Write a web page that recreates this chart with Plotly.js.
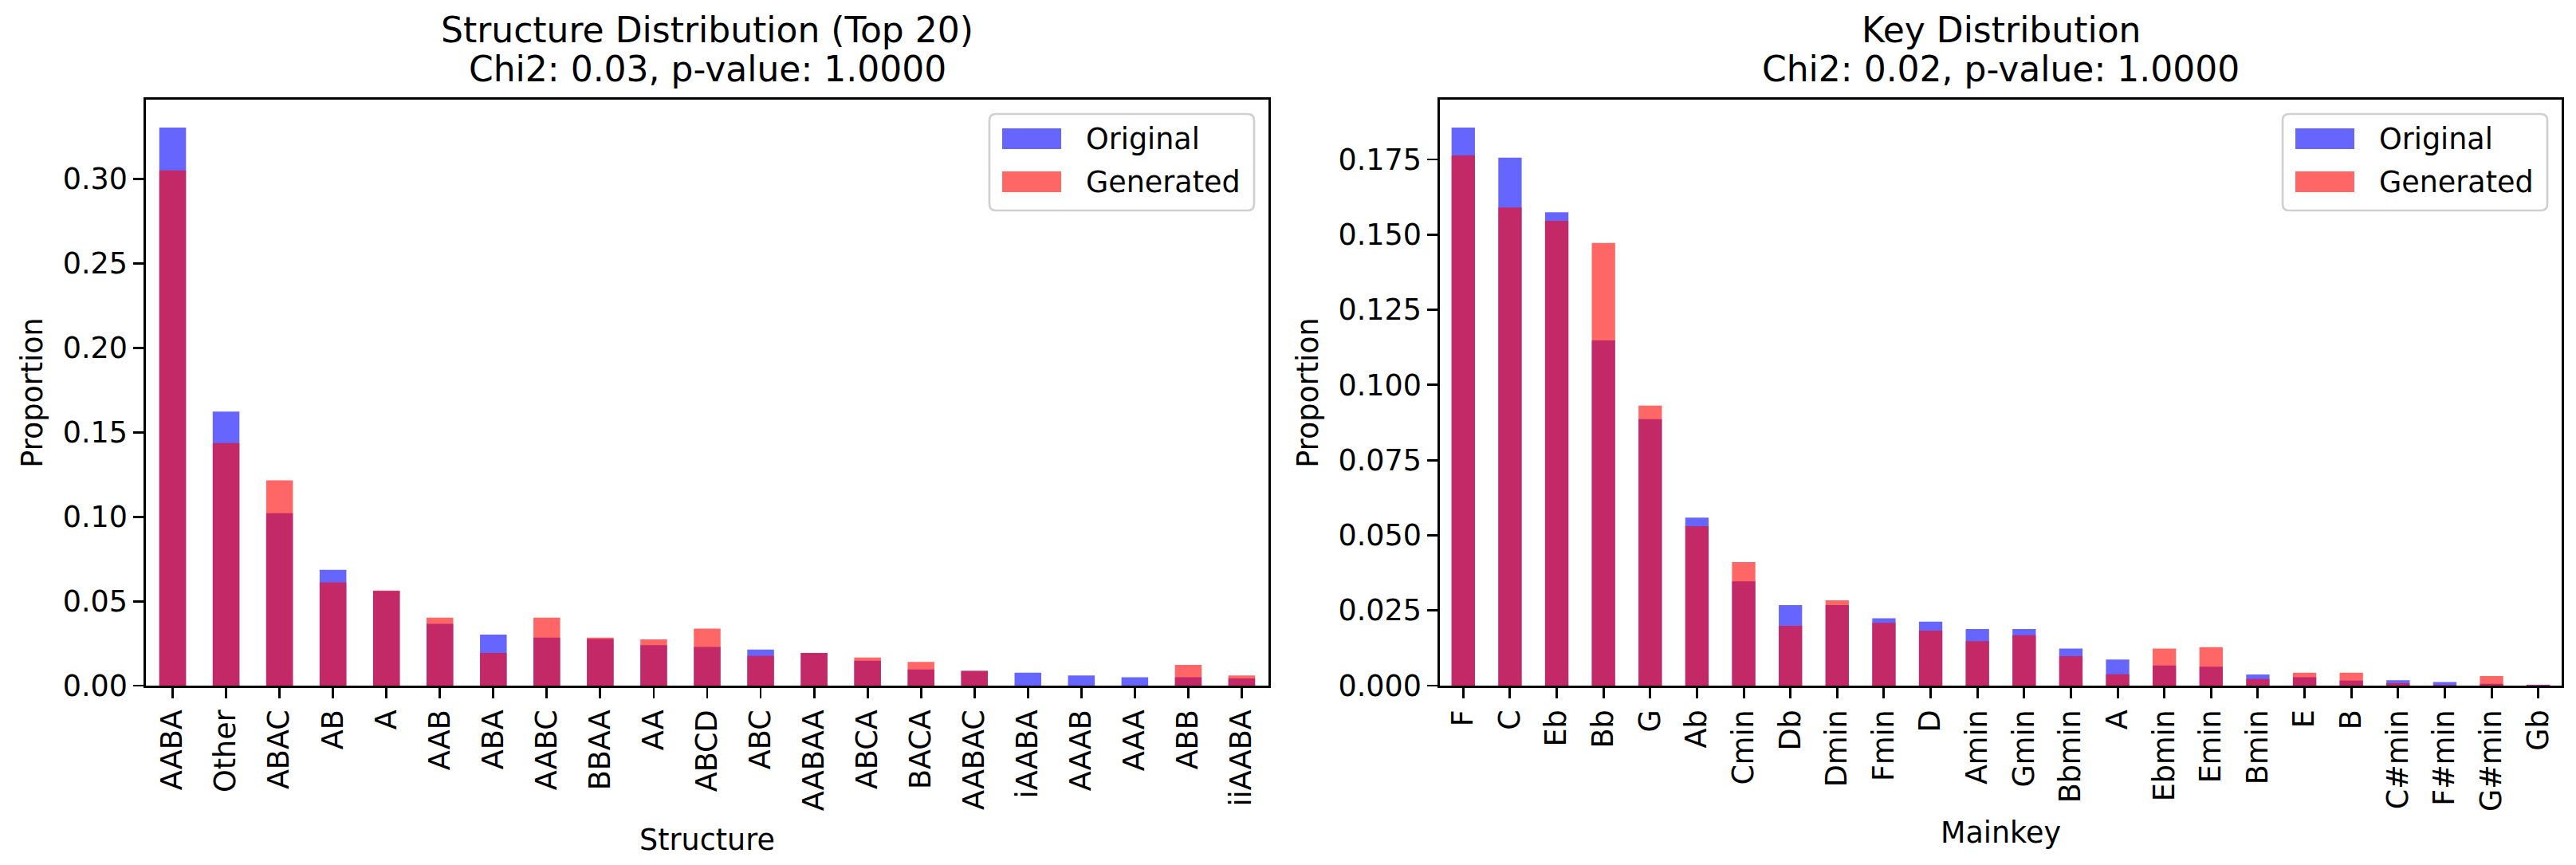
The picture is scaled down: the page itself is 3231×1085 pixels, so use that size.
<!DOCTYPE html>
<html>
<head>
<meta charset="utf-8">
<script src="https://cdn.plot.ly/plotly-3.0.1.min.js"></script>
<style>html,body{margin:0;padding:0;background:#fff;}#chart{width:3231px;height:1085px;}</style>
</head>
<body>
<div id="chart"></div>
<script>
// ---- data ----
var structures = ['AABA','Other','ABAC','AB','A','AAB','ABA','AABC','BBAA','AA','ABCD','ABC','AABAA','ABCA','BACA','AABAC','iAABA','AAAB','AAA','ABB','iiAABA'];
var structOriginal = [0.3304,0.1623,0.1021,0.0686,0.0561,0.0366,0.0302,0.0284,0.0276,0.0239,0.0229,0.0213,0.0194,0.0148,0.0095,0.0087,0.0077,0.0060,0.0050,0.0050,0.0042];
var structGenerated = [0.3050,0.1436,0.1215,0.0611,0.0563,0.0402,0.0194,0.0402,0.0284,0.0274,0.0337,0.0176,0.0193,0.0166,0.0140,0.0087,0,0,0,0.0123,0.0060];

var keys = ['F','C','Eb','Bb','G','Ab','Cmin','Db','Dmin','Fmin','D','Amin','Gmin','Bbmin','A','Ebmin','Emin','Bmin','E','B','C#min','F#min','G#min','Gb'];
var keyOriginal = [0.1856,0.1756,0.1574,0.1148,0.0886,0.0559,0.0347,0.0268,0.0268,0.0224,0.0213,0.0188,0.0188,0.0123,0.0087,0.0067,0.0063,0.0037,0.0028,0.0017,0.0018,0.0012,0.0006,0.0003];
var keyGenerated = [0.1763,0.1590,0.1546,0.1472,0.0931,0.0530,0.0411,0.0199,0.0284,0.0209,0.0183,0.0148,0.0168,0.0098,0.0038,0.0123,0.0128,0.0022,0.0043,0.0043,0.0008,0.0002,0.0032,0.0002];

var seriesNames = ['Original','Generated'];
var titles = [['Structure Distribution (Top 20)','Chi2: 0.03, p-value: 1.0000'],['Key Distribution','Chi2: 0.02, p-value: 1.0000']];
var xLabels = ['Structure','Mainkey'];
var yLabel = 'Proportion';

// ---- style ----
var W = 3231, H = 1085;
var L = 183, R = 18, T = 125, B = 225;
var PW = W - L - R, PH = H - T - B;
var FONT = 'DejaVu Sans, Verdana, sans-serif';
var FS = 36.5, TFS = 44;
var colOrig = 'rgba(0,0,255,0.6)', colGen = 'rgba(255,0,0,0.6)';
function px(x){ return (x - L) / PW; }
function py(y){ return (H - B - y) / PH; }
var dom1 = [0, px(1591)], dom2 = [px(1806), 1];

var traces = [
  {type:'bar', x:structures, y:structOriginal, name:seriesNames[0], width:0.5, marker:{color:colOrig, line:{width:0}}, xaxis:'x', yaxis:'y', showlegend:false},
  {type:'bar', x:structures, y:structGenerated, name:seriesNames[1], width:0.5, marker:{color:colGen, line:{width:0}}, xaxis:'x', yaxis:'y', showlegend:false},
  {type:'bar', x:keys, y:keyOriginal, name:seriesNames[0], width:0.5, marker:{color:colOrig, line:{width:0}}, xaxis:'x2', yaxis:'y2', showlegend:false},
  {type:'bar', x:keys, y:keyGenerated, name:seriesNames[1], width:0.5, marker:{color:colGen, line:{width:0}}, xaxis:'x2', yaxis:'y2', showlegend:false}
];

function xax(dom, cats, label, anchor, standoff){
  return {domain:dom, anchor:anchor, type:'category', categoryorder:'array', categoryarray:cats,
    range:[-0.5, cats.length-0.5], tickangle:-90, showline:true, mirror:true, linecolor:'#000', linewidth:2.9,
    ticks:'outside', ticklen:12.8, tickwidth:2.9, tickcolor:'#000', showgrid:false, zeroline:false,
    tickfont:{family:FONT, size:FS, color:'#000'},
    title:{text:label, font:{family:FONT, size:FS, color:'#000'}, standoff:standoff}};
}
function yax(dom, maxv, dtick, fmt, anchor){
  return {domain:[0,1], anchor:anchor, range:[0, maxv*1.05], dtick:dtick, tick0:0, tickformat:fmt,
    showline:true, mirror:true, linecolor:'#000', linewidth:2.9,
    ticks:'outside', ticklen:12.8, tickwidth:2.9, tickcolor:'#000', showgrid:false, zeroline:false,
    tickfont:{family:FONT, size:FS, color:'#000'},
    title:{text:yLabel, font:{family:FONT, size:FS, color:'#000'}, standoff:14}};
}

var maxS = Math.max(Math.max.apply(null, structOriginal), Math.max.apply(null, structGenerated));
var maxK = Math.max(Math.max.apply(null, keyOriginal), Math.max.apply(null, keyGenerated));

var annotations = [], shapes = [];
// titles
[dom1, dom2].forEach(function(d, i){
  var cx = (d[0] + d[1]) / 2;
  annotations.push({xref:'paper', yref:'paper', x:cx, y:py(37), xanchor:'center', yanchor:'middle', showarrow:false,
    text:titles[i][0], font:{family:FONT, size:TFS, color:'#000'}});
  annotations.push({xref:'paper', yref:'paper', x:cx, y:py(87), xanchor:'center', yanchor:'middle', showarrow:false,
    text:titles[i][1], font:{family:FONT, size:TFS, color:'#000'}});
});

// legends (matplotlib-style boxes)
function roundRect(x0, y0, x1, y1, r){
  var X = function(v){ return px(v); }, Y = function(v){ return py(v); };
  return 'M' + X(x0+r) + ',' + Y(y0) + ' L' + X(x1-r) + ',' + Y(y0) +
    ' Q' + X(x1) + ',' + Y(y0) + ' ' + X(x1) + ',' + Y(y0+r) +
    ' L' + X(x1) + ',' + Y(y1-r) + ' Q' + X(x1) + ',' + Y(y1) + ' ' + X(x1-r) + ',' + Y(y1) +
    ' L' + X(x0+r) + ',' + Y(y1) + ' Q' + X(x0) + ',' + Y(y1) + ' ' + X(x0) + ',' + Y(y1-r) +
    ' L' + X(x0) + ',' + Y(y0+r) + ' Q' + X(x0) + ',' + Y(y0) + ' ' + X(x0+r) + ',' + Y(y0) + ' Z';
}
[1591, 3213].forEach(function(rightEdge){
  var bx1 = rightEdge - 18, bx0 = bx1 - 332, by0 = 143, by1 = 264;
  shapes.push({type:'path', xref:'paper', yref:'paper', path:roundRect(bx0, by0, bx1, by1, 8),
    fillcolor:'rgba(255,255,255,0.8)', line:{color:'#d0d0d0', width:2.7}, layer:'above'});
  var hx0 = bx0 + 16, hx1 = hx0 + 74;
  [[174, colOrig, seriesNames[0]], [228, colGen, seriesNames[1]]].forEach(function(it){
    shapes.push({type:'rect', xref:'paper', yref:'paper', x0:px(hx0), x1:px(hx1), y0:py(it[0]-13), y1:py(it[0]+13),
      fillcolor:it[1], line:{width:0}, layer:'above'});
    annotations.push({xref:'paper', yref:'paper', x:px(hx1+29), y:py(it[0]), xanchor:'left', yanchor:'middle',
      showarrow:false, text:it[2], font:{family:FONT, size:FS, color:'#000'}});
  });
});

var layout = {
  width:W, height:H, margin:{l:L, r:R, t:T, b:B, pad:0},
  paper_bgcolor:'#fff', plot_bgcolor:'#fff', barmode:'overlay', showlegend:false,
  font:{family:FONT, size:FS, color:'#000'},
  xaxis:xax(dom1, structures, xLabels[0], 'y', 25),
  yaxis:yax(dom1, maxS, 0.05, '.2f', 'x'),
  xaxis2:xax(dom2, keys, xLabels[1], 'y2', 15),
  yaxis2:yax(dom2, maxK, 0.025, '.3f', 'x2'),
  annotations:annotations, shapes:shapes
};
Plotly.newPlot('chart', traces, layout, {staticPlot:true, displayModeBar:false});
</script>
</body>
</html>
